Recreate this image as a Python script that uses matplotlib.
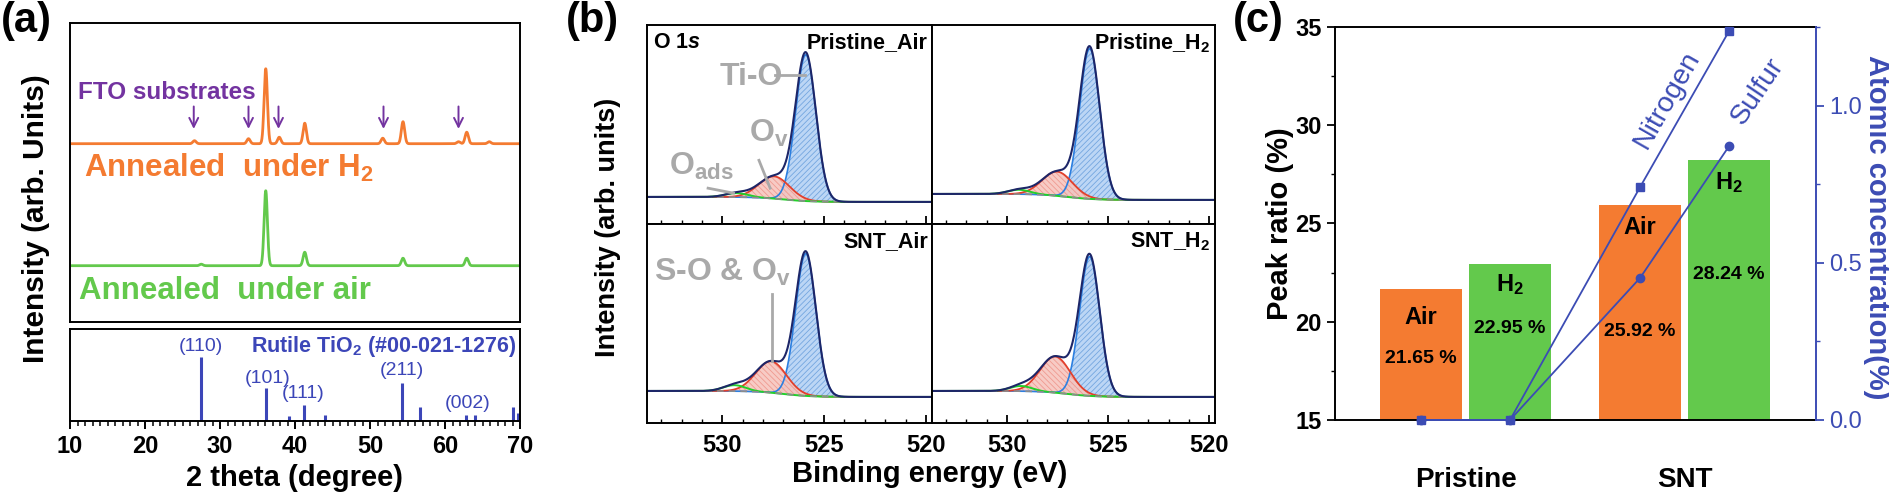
import numpy as np
import matplotlib.pyplot as plt
from matplotlib.ticker import MultipleLocator

plt.rcParams["font.family"] = ["Liberation Sans", "DejaVu Sans"]
plt.rcParams["mathtext.fontset"] = "custom"
plt.rcParams["mathtext.rm"] = "Liberation Sans"
plt.rcParams["mathtext.it"] = "Liberation Sans:italic"
plt.rcParams["mathtext.bf"] = "Liberation Sans:bold"
plt.rcParams["mathtext.bfit"] = "Liberation Sans:bold:italic"
plt.rcParams["hatch.linewidth"] = 0.6
plt.rcParams["axes.linewidth"] = 1.4

# ---- (a) XRD ----
XRD_H2_BASE = 178
XRD_H2_POS = [26.6, 33.8, 36.1, 37.9, 41.3, 51.7, 54.4, 61.8, 62.9, 65.9]
XRD_H2_HT = [3, 5, 75, 6.5, 20.5, 5.5, 22, 2, 11.5, 2]
XRD_AIR_BASE = 56
XRD_AIR_POS = [27.5, 36.1, 41.3, 54.4, 62.9]
XRD_AIR_HT = [1.5, 75, 13.5, 7.5, 7.5]
FTO_ARROWS = [26.5, 33.8, 37.8, 51.8, 61.8]

REF_POS = [27.45, 36.09, 39.19, 41.24, 44.05, 54.32, 56.64, 62.75, 64.04, 69.01, 69.79]
REF_INT = [63.4, 32.4, 4.7, 15.7, 5.7, 38.0, 13.4, 5.7, 5.7, 13.4, 7.4]
REF_LABELS = ["(110)", "(101)", "(111)", "(211)", "(002)"]
REF_LABEL_X = [27.5, 36.3, 41.1, 54.3, 63.0]
REF_LABEL_Y = [74, 42.4, 27.4, 50, 16.7]

# ---- (b) XPS O 1s fits ----
XPS_NAMES = ["Pristine_Air", r"Pristine_H$_\mathbf{2}$", "SNT_Air", r"SNT_H$_\mathbf{2}$"]
XPS_BG_LEFT = [0.136, 0.151, 0.161, 0.161]
XPS_BG_RIGHT = [0.111, 0.121, 0.131, 0.131]
TIO_POS = [525.9, 525.9, 525.9, 525.9]
TIO_HT = [0.735, 0.755, 0.715, 0.70]
OV_POS = [527.45, 527.5, 527.6, 527.6]
OV_HT = [0.112, 0.122, 0.158, 0.182]
OADS_POS = [529.3, 529.4, 529.4, 529.3]
OADS_HT = [0.02, 0.022, 0.03, 0.026]

# ---- (c) peak ratio and dopant concentration ----
GROUPS = ["Pristine", "SNT"]
RATIO_AIR = [21.65, 25.92]
RATIO_H2 = [22.95, 28.24]
NITROGEN = [0.0, 0.0, 0.741, 1.237]
SULFUR = [0.0, 0.0, 0.452, 0.871]
AIR_TAG_Y = [20.24, 24.82]
AIR_VAL_Y = [18.15, 19.48]
H2_TAG_Y = [21.87, 27.1]
H2_VAL_Y = [19.68, 22.38]

ORANGE = "#f47b31"
GREEN = "#63c94c"
PURPLE = "#7333a0"
BLUE_REF = "#3c46b8"
BLUE_C = "#3c4cb4"
GRAY = "#a9a9a9"

W, H = 1889, 492
fig = plt.figure(figsize=(W / 100, H / 100), dpi=100)


def box(x0, y0, x1, y1):
    # pixel box (top-left origin) -> figure fraction rect
    return [x0 / W, 1 - y1 / H, (x1 - x0) / W, (y1 - y0) / H]


def peaks(x, pos, ht, sig):
    y = np.zeros_like(x)
    for p, h in zip(pos, ht):
        y += h * np.exp(-0.5 * ((x - p) / sig) ** 2)
    return y


# ================= (a) =================
A_L, A_R = 70, 520
ax_a = fig.add_axes(box(A_L, 22.7, A_R, 321.7))
tt = np.linspace(10, 70, 3000)
ax_a.plot(tt, XRD_H2_BASE + peaks(tt, XRD_H2_POS, XRD_H2_HT, 0.22), color=ORANGE, lw=2)
ax_a.plot(tt, XRD_AIR_BASE + peaks(tt, XRD_AIR_POS, XRD_AIR_HT, 0.22), color=GREEN, lw=2)
for xa in FTO_ARROWS:
    ax_a.annotate("", xy=(xa, XRD_H2_BASE + 12), xytext=(xa, XRD_H2_BASE + 40),
                  arrowprops=dict(arrowstyle="->", color=PURPLE, lw=1.4, mutation_scale=16))
ax_a.text(11.1, 229, "FTO substrates", color=PURPLE, fontsize=17.5, fontweight="bold", va="center")
ax_a.text(11.9, 154, r"Annealed  under H$_\mathbf{2}$", color=ORANGE, fontsize=22.5,
          fontweight="bold", va="center")
ax_a.text(11.2, 31, "Annealed  under air", color=GREEN, fontsize=22.5, fontweight="bold", va="center")
ax_a.set_xlim(10, 70)
ax_a.set_ylim(0, 299)
ax_a.set_xticks([])
ax_a.set_yticks([])

ax_r = fig.add_axes(box(A_L, 329.3, A_R, 420.7))
ax_r.vlines(REF_POS, 0, REF_INT, color=BLUE_REF, lw=2.2)
for lab, lx, ly in zip(REF_LABELS, REF_LABEL_X, REF_LABEL_Y):
    ax_r.text(lx, ly, lab, color=BLUE_REF, fontsize=14, ha="center", va="center")
ax_r.text(69.6, 74, r"Rutile TiO$_\mathbf{2}$ (#00-021-1276)", color=BLUE_REF, fontsize=15.5,
          fontweight="bold", ha="right", va="center")
ax_r.set_xlim(10, 70)
ax_r.set_ylim(0, 91.4)
ax_r.set_yticks([])
ax_r.xaxis.set_major_locator(MultipleLocator(10))
ax_r.xaxis.set_minor_locator(MultipleLocator(1))
ax_r.tick_params(axis="x", which="major", direction="out", length=6, width=1.4, pad=4,
                 labelsize=17)
ax_r.tick_params(axis="x", which="minor", direction="out", length=3.5, width=1.1)
for t in ax_r.get_xticklabels():
    t.set_fontweight("bold")
ax_r.set_xlabel("2 theta (degree)", fontsize=21, fontweight="bold")
ax_r.xaxis.set_label_coords(0.5, -0.47)
fig.text(36 / W, 1 - 219 / H, "Intensity (arb. Units)", rotation=90, fontsize=21.5,
         fontweight="bold", ha="center", va="center")

# ================= (b) =================
xps_boxes = [box(647, 25, 932, 224), box(932, 25, 1215, 224),
             box(647, 224, 932, 423), box(932, 224, 1215, 423)]
ee = np.linspace(533.7, 519.7, 800)
for i, rect in enumerate(xps_boxes):
    ax = fig.add_axes(rect)
    bg = XPS_BG_RIGHT[i] + (XPS_BG_LEFT[i] - XPS_BG_RIGHT[i]) / (1 + np.exp(-(ee - 527.0) / 0.7))
    tio = peaks(ee, [TIO_POS[i]], [TIO_HT[i]], 0.5)
    ov = peaks(ee, [OV_POS[i]], [OV_HT[i]], 0.75)
    oads = peaks(ee, [OADS_POS[i]], [OADS_HT[i]], 0.55)
    ax.fill_between(ee, bg, bg + tio, facecolor="#bcd6f5", edgecolor="#74a6e0", hatch="//////", lw=0)
    ax.fill_between(ee, bg, bg + ov, facecolor="#f7c6bf", edgecolor="#ef948a", hatch="\\\\\\\\\\\\",
                    lw=0, alpha=0.9)
    ax.plot(ee, bg + tio, color="#2c7fe0", lw=1.2)
    ax.plot(ee, bg + ov, color="#e2402c", lw=1.3)
    ax.plot(ee, bg + oads, color="#22d02a", lw=1.4)
    ax.plot(ee, bg, color="#8c8c8c", lw=1.2, ls=(0, (4, 3)))
    ax.plot(ee, bg + tio + ov + oads, color="#1d2668", lw=1.5)
    ax.set_xlim(533.7, 519.7)
    ax.set_ylim(0, 1)
    ax.set_yticks([])
    ax.xaxis.set_major_locator(MultipleLocator(5))
    ax.xaxis.set_minor_locator(MultipleLocator(1))
    ax.tick_params(axis="x", which="major", direction="in", length=6, width=1.3, pad=8,
                   labelsize=17)
    ax.tick_params(axis="x", which="minor", direction="in", length=3, width=1.0)
    if i < 2:
        ax.tick_params(axis="x", labelbottom=False)
    for t in ax.get_xticklabels():
        t.set_fontweight("bold")
    ax.text(0.985, 0.91, XPS_NAMES[i], transform=ax.transAxes, ha="right", va="center",
            fontsize=15.5, fontweight="bold")
    if i == 0:
        ax.text(0.02, 0.91, r"O 1$\bfit{s}$", transform=ax.transAxes, ha="left", va="center",
                fontsize=15.5, fontweight="bold")
        ax.text(528.6, 0.74, "Ti-O", color=GRAY, fontsize=23, fontweight="bold", ha="center",
                va="center")
        ax.plot([527.4, 525.95], [0.75, 0.75], color=GRAY, lw=2)
        ax.text(528.7, 0.455, r"O$_\mathbf{v}$", color=GRAY, fontsize=23, fontweight="bold",
                ha="left", va="center")
        ax.plot([528.2, 527.65], [0.32, 0.18], color=GRAY, lw=2)
        ax.text(532.6, 0.29, r"O$_\mathbf{ads}$", color=GRAY, fontsize=23, fontweight="bold",
                ha="left", va="center")
        ax.plot([530.7, 529.45], [0.18, 0.155], color=GRAY, lw=2)
    if i == 2:
        ax.text(533.35, 0.755, r"S-O & O$_\mathbf{v}$", color=GRAY, fontsize=23, fontweight="bold",
                ha="left", va="center")
        ax.plot([527.55, 527.55], [0.65, 0.31], color=GRAY, lw=2)

fig.text(608 / W, 1 - 227 / H, "Intensity (arb. units)", rotation=90, fontsize=19.5,
         fontweight="bold", ha="center", va="center")
fig.text(930 / W, 1 - 474 / H, "Binding energy (eV)", fontsize=21, fontweight="bold",
         ha="center", va="center")

# ================= (c) =================
ax_c = fig.add_axes(box(1335, 27, 1816, 420))
gx = np.arange(len(GROUPS))
off, bw = 0.203, 0.374
ax_c.bar(gx - off, RATIO_AIR, bw, color=ORANGE, zorder=1)
ax_c.bar(gx + off, RATIO_H2, bw, color=GREEN, zorder=1)
for k in range(len(GROUPS)):
    ax_c.text(gx[k] - off, AIR_TAG_Y[k], "Air", ha="center", va="center", fontsize=17,
              fontweight="bold")
    ax_c.text(gx[k] - off, AIR_VAL_Y[k], f"{RATIO_AIR[k]:.2f} %", ha="center", va="center",
              fontsize=14, fontweight="bold")
    ax_c.text(gx[k] + off, H2_TAG_Y[k], r"H$_\mathbf{2}$", ha="center", va="center",
              fontsize=17, fontweight="bold")
    ax_c.text(gx[k] + off, H2_VAL_Y[k], f"{RATIO_H2[k]:.2f} %", ha="center", va="center",
              fontsize=14, fontweight="bold")
    ax_c.text(gx[k], -0.153, GROUPS[k], transform=ax_c.get_xaxis_transform(), ha="center",
              va="center", fontsize=20, fontweight="bold")
ax_c.set_xlim(-0.596, 1.6)
ax_c.set_ylim(15, 35)
ax_c.set_xticks([])
ax_c.yaxis.set_major_locator(MultipleLocator(5))
ax_c.yaxis.set_minor_locator(MultipleLocator(2.5))
ax_c.tick_params(axis="y", which="major", direction="out", length=6, width=1.3, labelsize=17)
ax_c.tick_params(axis="y", which="minor", direction="out", length=3, width=1.0)
for t in ax_c.get_yticklabels():
    t.set_fontweight("bold")
ax_c.spines["right"].set_visible(False)
ax_c.set_ylabel("Peak ratio (%)", fontsize=21, fontweight="bold")
ax_c.yaxis.set_label_coords(-0.085, 0.5)

ax_t = ax_c.twinx()
px = np.array([gx[0] - off, gx[0] + off, gx[1] - off, gx[1] + off])
ax_t.plot(px, NITROGEN, color=BLUE_C, lw=1.3, marker="s", ms=6, clip_on=False, zorder=3)
ax_t.plot(px, SULFUR, color=BLUE_C, lw=1.3, marker="o", ms=6, clip_on=False, zorder=3)
ax_t.set_ylim(0, 1.25)
ax_t.yaxis.set_major_locator(MultipleLocator(0.5))
ax_t.yaxis.set_minor_locator(MultipleLocator(0.25))
ax_t.tick_params(axis="y", which="major", direction="out", length=6, width=1.3, colors=BLUE_C,
                 labelsize=17)
ax_t.tick_params(axis="y", which="minor", direction="out", length=3, width=1.0, colors=BLUE_C)
ax_t.spines["right"].set_color(BLUE_C)
ax_t.spines["left"].set_visible(False)
ax_t.spines["top"].set_visible(False)
ax_t.spines["bottom"].set_visible(False)
ax_t.set_ylabel("Atomic concentration(%)", fontsize=21, fontweight="bold", color=BLUE_C,
                rotation=270, va="center")
ax_t.yaxis.set_label_coords(1 + (1877 - 1816) / 481, 0.49)

fig.canvas.draw()
for data, tx, ty, lab in [(NITROGEN, 0.92, 1.02, "Nitrogen"), (SULFUR, 1.335, 1.045, "Sulfur")]:
    p1 = ax_t.transData.transform((px[2], data[2]))
    p2 = ax_t.transData.transform((px[3], data[3]))
    ang = np.degrees(np.arctan2(p2[1] - p1[1], p2[0] - p1[0]))
    ax_t.text(tx, ty, lab, rotation=ang, rotation_mode="anchor", ha="center", va="center",
              color=BLUE_C, fontsize=20.5)

# panel letters
fig.text(26 / W, 1 - 21 / H, "(a)", fontsize=30, fontweight="bold", ha="center", va="center")
fig.text(592 / W, 1 - 21 / H, "(b)", fontsize=30, fontweight="bold", ha="center", va="center")
fig.text(1258 / W, 1 - 21 / H, "(c)", fontsize=30, fontweight="bold", ha="center", va="center")

fig.savefig("out.png", dpi=100)
